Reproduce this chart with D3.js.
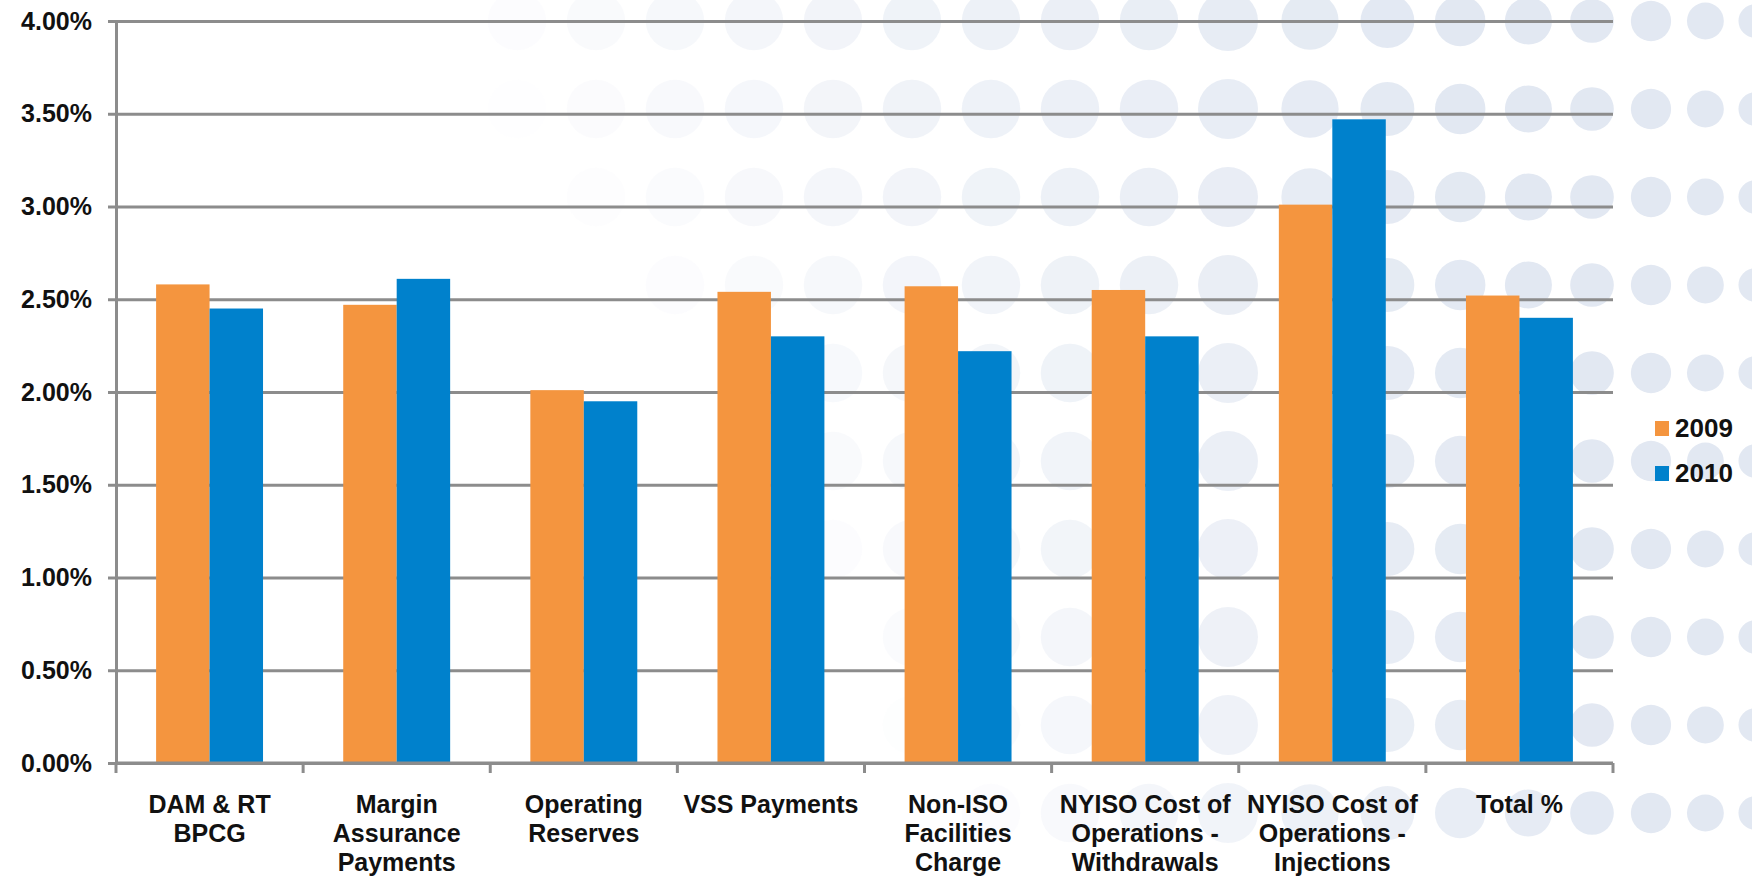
<!DOCTYPE html>
<html>
<head>
<meta charset="utf-8">
<script src="https://cdn.jsdelivr.net/npm/d3@7"></script>
<style>
  body { margin: 0; background: #fff; }
  text { font-family: "Liberation Sans", Arial, sans-serif; font-weight: bold; fill: #111; }
</style>
</head>
<body>
<svg id="chart"></svg>
<script>
// categories (x axis), "\n" marks a line break in the label
const categories = [
  "DAM & RT\nBPCG",
  "Margin\nAssurance\nPayments",
  "Operating\nReserves",
  "VSS Payments",
  "Non-ISO\nFacilities\nCharge",
  "NYISO Cost of\nOperations -\nWithdrawals",
  "NYISO Cost of\nOperations -\nInjections",
  "Total %"
];

const seriesNames = ["2009", "2010"];
const values2009 = [0.0258, 0.0247, 0.0201, 0.0254, 0.0257, 0.0255, 0.0301, 0.0252];
const values2010 = [0.0245, 0.0261, 0.0195, 0.0230, 0.0222, 0.0230, 0.0347, 0.0240];
const colors = ["#f4953f", "#0081cc"];
const yTicks = [0, 0.005, 0.01, 0.015, 0.02, 0.025, 0.03, 0.035, 0.04];

const config = {
  width: 1752,
  height: 880,
  margin: {top: 21, right: 139, bottom: 117, left: 116}
};

const svg = d3.select("#chart")
  .attr("width", config.width)
  .attr("height", config.height);

const width = config.width - config.margin.left - config.margin.right,
      height = config.height - config.margin.top - config.margin.bottom;

// --- decorative dotted background (not data) ---
const bg = svg.append("g");
let cx = 517;
const cols = [];
d3.range(20).forEach(i => {
  let step = i < 9 ? 79 : 82 - 4.6 * (i - 9);
  cols.push({x: cx, r: Math.min(30, step * 0.37)});
  cx += step;
});
d3.range(10).forEach(j => {
  const cy = 21 + j * 88;
  // fade in from the left, later for lower rows
  const fade = d3.scaleLinear()
    .domain([450 + j * 55, 1450 + j * 20])
    .range([0, 1]).clamp(true);
  bg.selectAll(null)
    .data(cols)
    .enter()
    .append("circle")
    .attr("cx", d => d.x)
    .attr("cy", cy)
    .attr("r", d => d.r)
    .attr("fill", "#e2e8f2")
    .attr("opacity", d => Math.pow(fade(d.x), 0.8));
});

const chart = svg.append("g")
  .attr("transform", `translate(${config.margin.left},${config.margin.top})`);

const x0 = d3.scaleBand()
  .domain(categories)
  .range([0, width])
  .padding(0);

const x1 = d3.scaleBand()
  .domain(seriesNames)
  .range([0, x0.bandwidth()])
  .paddingInner(0)
  .paddingOuter(0.75);

const y = d3.scaleLinear()
  .domain([0, 0.04])
  .range([height, 0]);

// gridlines
const grid = chart.append("g")
  .call(d3.axisLeft(y).tickValues(yTicks).tickSize(-width).tickFormat(""));
grid.select(".domain").remove();
grid.selectAll("line").attr("stroke", "#8c8c8c").attr("stroke-width", 3);

// bars
const rows = categories.map((c, i) => ({cat: c, vals: [values2009[i], values2010[i]]}));
chart.append("g")
  .selectAll("g")
  .data(rows)
  .enter()
  .append("g")
  .attr("transform", d => `translate(${x0(d.cat)},0)`)
  .selectAll("rect")
  .data(d => d.vals.map((v, k) => ({name: seriesNames[k], v: v, k: k})))
  .enter()
  .append("rect")
  .attr("x", d => x1(d.name))
  .attr("y", d => y(d.v))
  .attr("width", x1.bandwidth())
  .attr("height", d => height - y(d.v))
  .attr("fill", d => colors[d.k]);

// y axis
const yAxis = chart.append("g")
  .call(d3.axisLeft(y).tickValues(yTicks).tickSize(8).tickPadding(16)
    .tickFormat(d3.format(".2%")));
yAxis.selectAll("path, line").attr("stroke", "#8c8c8c").attr("stroke-width", 3);
yAxis.selectAll("text")
  .attr("font-size", 25)
  .style("font-family", '"Liberation Sans", Arial, sans-serif')
  .style("font-weight", "bold")
  .attr("fill", "#111");

// x axis line and category boundary ticks
const xAxisG = chart.append("g").attr("transform", `translate(0,${height})`);
xAxisG.append("line")
  .attr("x1", 0).attr("x2", width)
  .attr("stroke", "#8c8c8c").attr("stroke-width", 3);
xAxisG.selectAll(".tick")
  .data(categories.map(c => x0(c)).concat([x0(categories[categories.length - 1]) + x0.bandwidth()]))
  .enter()
  .append("line")
  .attr("x1", d => d).attr("x2", d => d)
  .attr("y1", 0).attr("y2", 10)
  .attr("stroke", "#8c8c8c").attr("stroke-width", 3);

// category labels
const lbl = xAxisG.selectAll(".lbl")
  .data(categories)
  .enter()
  .append("text")
  .attr("text-anchor", "middle")
  .attr("font-size", 25)
  .attr("transform", d => `translate(${x0(d) + x0.bandwidth() / 2},50)`);
lbl.selectAll("tspan")
  .data(d => d.split("\n"))
  .enter()
  .append("tspan")
  .attr("x", 0)
  .attr("y", (d, i) => i * 29)
  .text(d => d);

// legend
const legend = svg.append("g")
  .attr("transform", "translate(1655,428)");
const li = legend.selectAll("g")
  .data(seriesNames)
  .enter()
  .append("g")
  .attr("transform", (d, i) => `translate(0,${i * 45})`);
li.append("rect")
  .attr("x", 0).attr("y", -7)
  .attr("width", 14).attr("height", 15)
  .attr("fill", (d, i) => colors[i]);
li.append("text")
  .attr("x", 20)
  .attr("dy", "0.36em")
  .attr("font-size", 26)
  .text(d => d);
</script>
</body>
</html>
